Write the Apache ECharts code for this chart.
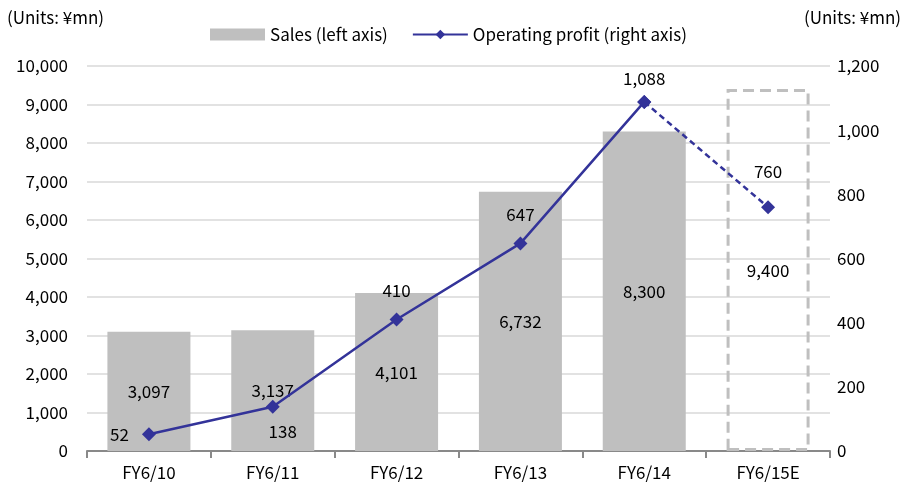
<!DOCTYPE html>
<html>
<head>
<meta charset="utf-8">
<script src="https://cdn.jsdelivr.net/npm/echarts@6/dist/echarts.min.js"></script>
<style>
  html, body { margin: 0; padding: 0; background: #fff; }
  #chart { width: 910px; height: 484px; }
</style>
</head>
<body>
<div id="chart"></div>
<script>
const years = ["FY6/10", "FY6/11", "FY6/12", "FY6/13", "FY6/14", "FY6/15E"];
const sales = [3097, 3137, 4101, 6732, 8300, 9400];
const profit = [52, 138, 410, 647, 1088, 760];
const profitLabelPos = ["left", "bottom", "top", "top", "top", "top"];

const font = "'Noto Sans CJK JP', 'Noto Sans', sans-serif";
const navy = "#333399";
const lastIdx = years.length - 1;

const chart = echarts.init(document.getElementById("chart"));

const salesData = sales.map((v, i) => {
  if (i === lastIdx) {
    // estimate: dashed outline only
    return {
      value: v,
      itemStyle: {
        color: "rgba(0,0,0,0)",
        borderColor: "#bfbfbf",
        borderWidth: 3,
        borderType: [11, 6]
      }
    };
  }
  return v;
});

const profitSolid = profit.map((v, i) => ({
  value: i < lastIdx ? v : null,
  label: {
    position: profitLabelPos[i],
    offset: i === 1 ? [10, -4] : i === 4 ? [0, 5] : [0, 0]
  }
}));
const profitDashed = profit.map((v, i) => ({
  value: i >= lastIdx - 1 ? v : null,
  label: { show: i === lastIdx, position: profitLabelPos[i], distance: 20 }
}));

chart.setOption({
  animation: false,
  textStyle: { fontFamily: font },
  grid: { left: 87, right: 80, top: 66, bottom: 33 },
  graphic: [
    { type: "text", left: 7, top: 9, style: { text: "(Units: ¥mn)", font: "17px " + font, fill: "#000" } },
    { type: "text", left: 804, top: 9, style: { text: "(Units: ¥mn)", font: "17px " + font, fill: "#000" } }
  ],
  legend: {
    top: 21,
    left: 205,
    itemGap: 24,
    itemWidth: 55,
    itemHeight: 12,
    textStyle: { fontFamily: font, fontSize: 17, color: "#000" },
    data: [
      { name: "Sales (left axis)", icon: "rect", itemStyle: { color: "#bfbfbf", borderWidth: 0 } },
      { name: "Operating profit (right axis)" }
    ]
  },
  xAxis: {
    type: "category",
    data: years,
    axisLine: { lineStyle: { color: "#898989", width: 2 } },
    axisTick: { show: true, length: 7, lineStyle: { color: "#898989", width: 2 } },
    axisLabel: { color: "#000", fontSize: 17, margin: 13 }
  },
  yAxis: [
    {
      type: "value",
      min: 0,
      max: 10000,
      interval: 1000,
      axisLine: { show: false },
      axisTick: { show: false },
      splitLine: { lineStyle: { color: "#d9d9d9", width: 1.5 } },
      axisLabel: {
        color: "#000",
        fontSize: 17,
        margin: 19,
        formatter: v => v.toLocaleString("en-US")
      }
    },
    {
      type: "value",
      min: 0,
      max: 1200,
      interval: 200,
      axisLine: { show: false },
      axisTick: { show: false },
      splitLine: { show: false },
      axisLabel: {
        color: "#000",
        fontSize: 17,
        margin: 7,
        formatter: v => v.toLocaleString("en-US")
      }
    }
  ],
  series: [
    {
      name: "Sales (left axis)",
      type: "bar",
      barWidth: 83,
      itemStyle: { color: "#bfbfbf" },
      label: {
        show: true,
        position: "inside",
        color: "#000",
        fontSize: 17,
        formatter: p => p.value.toLocaleString("en-US")
      },
      data: salesData
    },
    {
      name: "Operating profit (right axis)",
      type: "line",
      yAxisIndex: 1,
      symbol: "diamond",
      symbolSize: 14,
      lineStyle: { color: navy, width: 2.5 },
      itemStyle: { color: navy },
      label: {
        show: true,
        color: "#000",
        fontSize: 17,
        distance: 13,
        formatter: p => p.value.toLocaleString("en-US")
      },
      data: profitSolid,
      z: 5
    },
    {
      name: "Operating profit (estimate)",
      type: "line",
      yAxisIndex: 1,
      symbol: "diamond",
      symbolSize: 14,
      lineStyle: { color: navy, width: 2.5, type: [6, 4] },
      itemStyle: { color: navy },
      label: {
        color: "#000",
        fontSize: 17,
        formatter: p => p.value.toLocaleString("en-US")
      },
      data: profitDashed,
      z: 4
    }
  ]
});
</script>
</body>
</html>
